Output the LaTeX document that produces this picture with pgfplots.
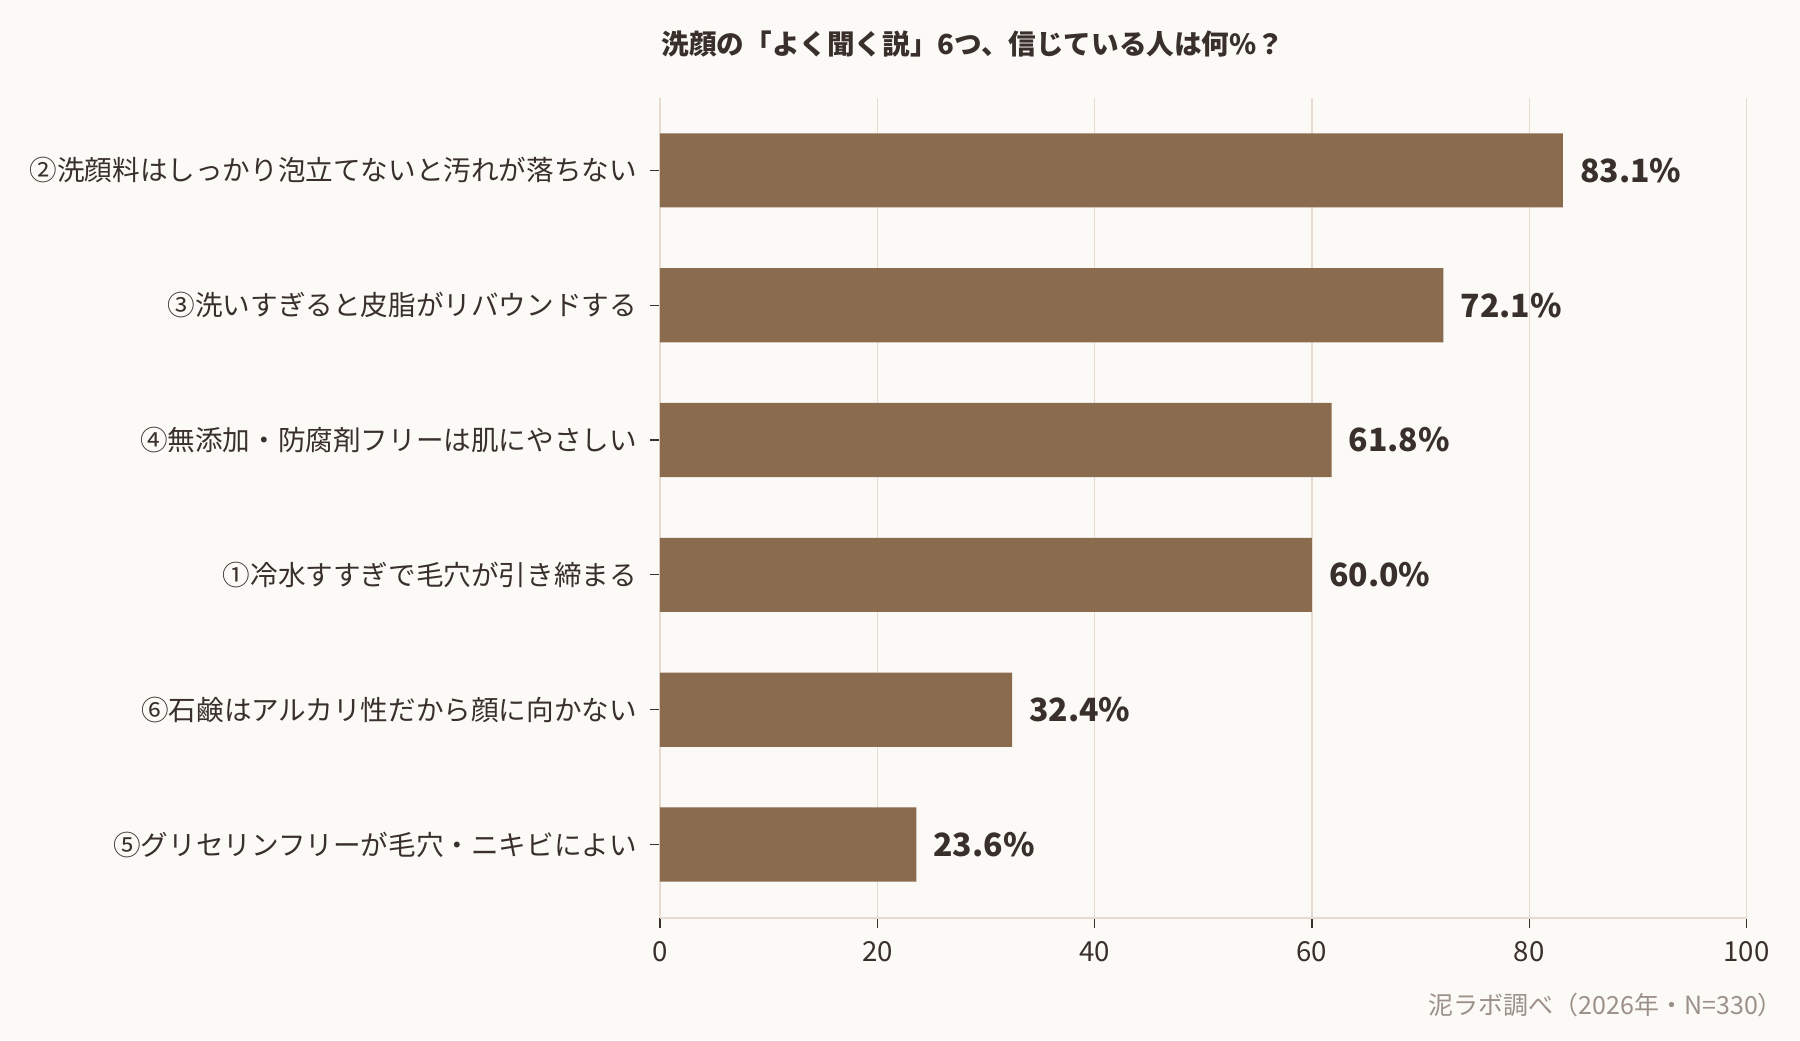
\documentclass[border=0pt]{standalone}
\usepackage{fontspec}
\setmainfont{Noto Sans CJK JP}
\usepackage{pgfplots}
\pgfplotsset{compat=1.18}
\definecolor{bg}{HTML}{FBFAF7}
\definecolor{barc}{HTML}{8B6B4E}
\definecolor{txt}{HTML}{3A302B}
\definecolor{gridc}{HTML}{E6DAD1}
\definecolor{srcc}{HTML}{9C9088}
\begin{document}
\begin{tikzpicture}
\fill[bg] (0,0) rectangle (900pt,520pt);
\begin{axis}[
  at={(330pt,61pt)}, anchor=south west,
  scale only axis, width=543.3pt, height=410.2pt,
  xbar, bar width=0.55,
  xmin=0, xmax=100,
  ymin=-0.54, ymax=5.545, y dir=reverse,
  ytick={0,1,2,3,4,5},
  yticklabels={②洗顔料はしっかり泡立てないと汚れが落ちない,③洗いすぎると皮脂がリバウンドする,④無添加・防腐剤フリーは肌にやさしい,①冷水すすぎで毛穴が引き締まる,⑥石鹸はアルカリ性だから顔に向かない,⑤グリセリンフリーが毛穴・ニキビによい},
  xtick={0,20,40,60,80,100},
  /pgf/number format/assume math mode=true,
  axis x line*=bottom, axis y line*=left,
  x axis line style={gridc, line width=1pt},
  y axis line style={gridc, line width=0.65pt},
  tick style={txt, line width=0.6pt},
  major tick length=5pt,
  tick align=outside,
  xmajorgrids, major grid style={gridc, line width=0.65pt},
  ticklabel style={font=\fontsize{13.8}{16}\selectfont, text=txt},
  yticklabel style={xshift=-3pt},
  xticklabel style={yshift=-3pt},
  point meta=x,
  nodes near coords={\pgfmathprintnumber[fixed,precision=1,fixed zerofill]{\pgfplotspointmeta}\%},
  nodes near coords style={font=\bfseries\fontsize{16}{19}\selectfont, text=txt, anchor=west, xshift=5pt},
]
\addplot[fill=barc, draw=none] coordinates {(83.1,0) (72.1,1) (61.8,2) (60.0,3) (32.4,4) (23.6,5)};
\end{axis}
\node[font=\bfseries\fontsize{13.8}{16}\selectfont, text=txt] at (486.5pt,498.2pt) {洗顔の「よく聞く説」6つ、信じている人は何\%？};
\node[font=\fontsize{12.5}{14}\selectfont, text=srcc, anchor=east] at (895pt,17.75pt) {泥ラボ調べ（2026年・N=330）};
\pgfresetboundingbox
\path[use as bounding box] (0,0) rectangle (900pt,520pt);
\end{tikzpicture}
\end{document}
